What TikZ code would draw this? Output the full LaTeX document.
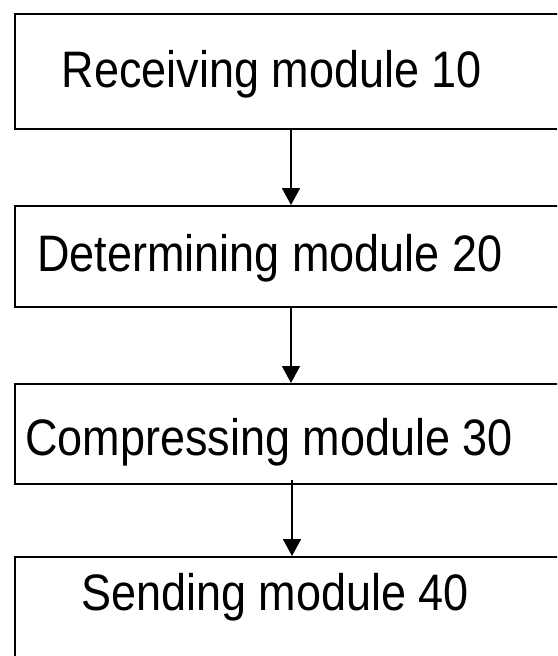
\documentclass[tikz,border=0pt]{standalone}
\usepackage{fontspec}
\setmainfont{Liberation Sans}
\usetikzlibrary{arrows.meta}
\newcommand{\tallt}[1]{\scalebox{1}[1.14]{#1}}
\begin{document}
\begin{tikzpicture}[x=1pt,y=-1pt,
  box/.style={draw, line width=1.8pt, minimum width=600pt, anchor=north west, inner sep=0pt},
  lbl/.style={font=\fontsize{45}{50}\selectfont, inner sep=0pt, anchor=base},
  arr/.style={line width=1.8pt, -{Triangle[length=17pt,width=18pt]}}]
\useasboundingbox (0,0) rectangle (557,656);
\clip (0,0) rectangle (557,656);
\node[box, minimum height=115pt] (b1) at (14,13) {};
\node[box, minimum height=101pt] (b2) at (14,205) {};
\node[box, minimum height=100pt] (b3) at (14,383) {};
\node[box, minimum height=150pt] (b4) at (14,556) {};
\node[lbl] (t1) at (272,87) {\tallt{Receiving module 10}};
\node[lbl] (t2) at (270,271) {\tallt{Determining module 20}};
\node[lbl] (t3) at (269,455) {\tallt{Compressing module 30}};
\node[lbl] (t4) at (275,610) {\tallt{Sending module 40}};
\draw[arr] ([xshift=277pt]b1.south west) -- ([xshift=277pt]b2.north west);
\draw[arr] ([xshift=277pt]b2.south west) -- ([xshift=277pt]b3.north west);
\draw[arr] ([xshift=278pt,yshift=5pt]b3.south west) -- ([xshift=278pt]b4.north west);
\end{tikzpicture}
\end{document}
